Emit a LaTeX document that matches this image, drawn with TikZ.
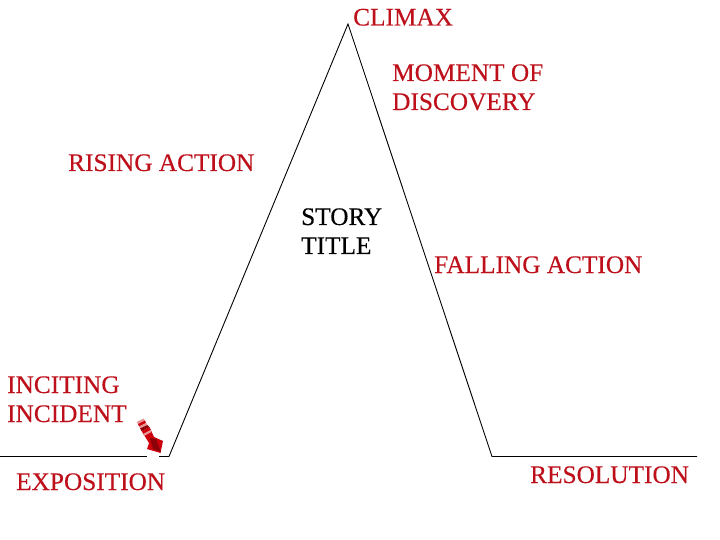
\documentclass[tikz,border=0pt]{standalone}
\usepackage{fontspec}
\setmainfont{Liberation Serif}[FakeBold=0.25]
\definecolor{labelred}{RGB}{190,16,26}
\definecolor{arrowred}{RGB}{205,0,12}
\definecolor{arrowdark}{RGB}{140,0,8}
\definecolor{arrowpale}{RGB}{230,150,150}
\tikzset{
  redlabel/.style={anchor=base west,inner sep=0pt,text=labelred,font=\fontsize{25.3}{29}\selectfont,align=left},
  titlelabel/.style={anchor=base west,inner sep=0pt,text=black,font=\fontsize{25.3}{29}\selectfont,align=left},
  plotline/.style={draw=black,line width=0.9pt}
}
\begin{document}
\begin{tikzpicture}[x=1pt,y=-1pt]
\useasboundingbox (0,0) rectangle (720,540);
\fill[white] (0,0) rectangle (720,540);
\coordinate (startA) at (0,456.5);
\coordinate (gapA) at (147,456.5);
\coordinate (gapB) at (159,456.5);
\coordinate (foot) at (169,456.5);
\coordinate (peak) at (348,24);
\coordinate (base) at (492,456.5);
\coordinate (endR) at (697,456.5);
\draw[plotline] (startA) -- (gapA);
\draw[plotline,line join=miter] (gapB) -- (foot) -- (peak) -- (base) -- (endR);
\node[redlabel] (climax) at (353,25.5) {CLIMAX};
\node[redlabel] (moment) at (392,81) {MOMENT OF};
\node[redlabel] (discovery) at (392,110) {DISCOVERY};
\node[redlabel] (rising) at (68,171) {RISING ACTION};
\node[titlelabel] (story) at (301,225) {STORY};
\node[titlelabel] (title) at (301,254) {TITLE};
\node[redlabel] (falling) at (434,273) {FALLING ACTION};
\node[redlabel] (inciting) at (7,393) {INCITING};
\node[redlabel] (incident) at (7,422) {INCIDENT};
\node[redlabel] (expo) at (16,490) {EXPOSITION};
\node[redlabel] (resol) at (530,483) {RESOLUTION};
% small red arrow, with a striped tail
\fill[arrowred] (141.5,431) -- (149.5,427) -- (154,437) -- (163,441) -- (160.5,453) -- (147,449) -- (149,443) -- cycle;
\fill[arrowdark] (150,438) -- (156,439) -- (161,452) -- (153,449) -- cycle;
\fill[arrowpale] (136.5,422) -- (143.5,418.5) -- (145,420.5) -- (138,424) -- cycle;
\fill[arrowred] (138,424) -- (145,420.5) -- (146,423) -- (139,426.5) -- cycle;
\fill[arrowpale] (139,426.5) -- (146,423) -- (147.5,425) -- (140,428.5) -- cycle;
\fill[arrowdark] (140,428.5) -- (147.5,425) -- (149.5,427) -- (141.5,431) -- cycle;
\fill[arrowpale] (143,434) -- (150.5,430) -- (151.5,432) -- (144,436) -- cycle;
\end{tikzpicture}
\end{document}
